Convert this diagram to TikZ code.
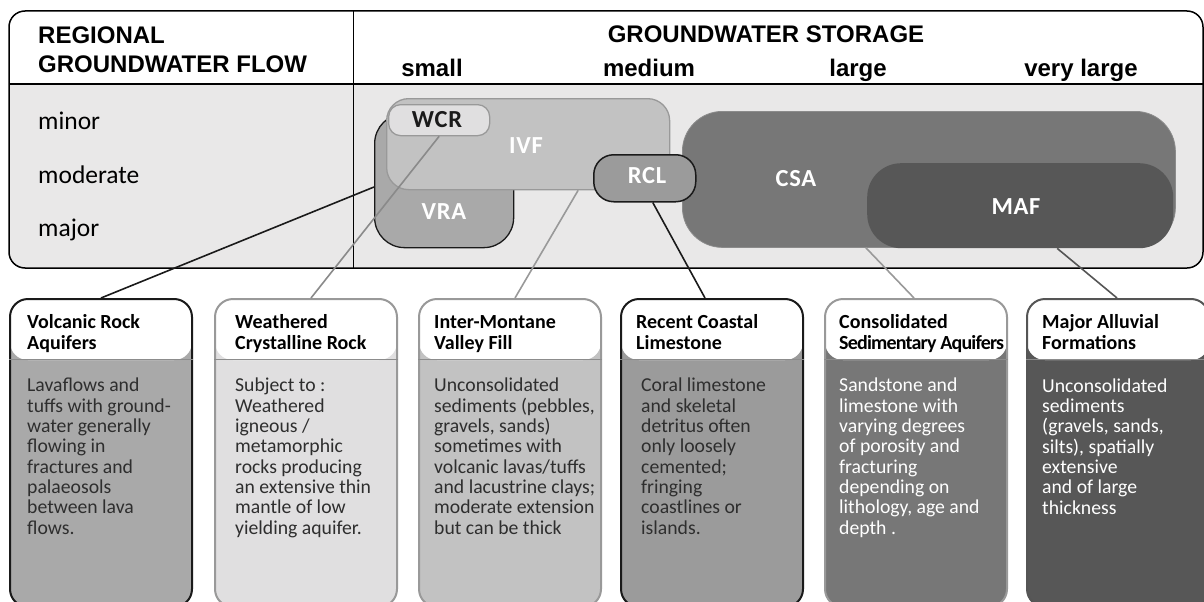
\documentclass[tikz,border=0pt]{standalone}
\usepackage{fontspec}
\setmainfont{Carlito}
\newfontfamily\hfont{Liberation Sans}
\usetikzlibrary{calc}
\definecolor{panel}{HTML}{E9E8E8}
\definecolor{vraC}{HTML}{A9A9A9}
\definecolor{ivfC}{HTML}{C2C2C2}
\definecolor{wcrC}{HTML}{E0DFE0}
\definecolor{rclC}{HTML}{9B9B9B}
\definecolor{csaC}{HTML}{777777}
\definecolor{mafC}{HTML}{575757}
\definecolor{darkline}{HTML}{1A1A1A}
\definecolor{greyline}{HTML}{999999}
\definecolor{midline}{HTML}{555555}
\definecolor{bodytext}{HTML}{2E2E2E}
\tikzset{
  area/.style={inner sep=0pt, anchor=north west},
  areatext/.style={font=\fontsize{24.5}{25}\selectfont\bfseries\addfontfeatures{LetterSpace=3}, text=white, inner sep=0pt, anchor=base},
  hdr/.style={font=\hfont\fontsize{24}{26}\selectfont\bfseries, inner sep=0pt},
  rowlab/.style={font=\fontsize{25.5}{26}\selectfont, inner sep=0pt, anchor=base west},
  infobox/.style={inner sep=0pt, anchor=north west, minimum width=182pt, minimum height=308pt,
    rounded corners=18pt, line width=2pt,
    path picture={\fill[white] (path picture bounding box.north west) rectangle
      ([yshift=-61pt]path picture bounding box.north east);}},
  boxhead/.style={inner sep=0pt, anchor=base west, align=left, font=\fontsize{20}{21}\selectfont\bfseries},
  boxbody/.style={inner sep=0pt, anchor=base west, align=left, font=\fontsize{19.7}{20.3}\selectfont},
  conn/.style={line width=1.6pt}
}
\begin{document}
\begin{tikzpicture}[x=1pt,y=-1pt]
\useasboundingbox (0,0) rectangle (1204,602);
% main panel
\begin{scope}
  \clip[rounded corners=16pt] (9,11) rectangle (1203,268);
  \fill[white] (9,11) rectangle (1203,84);
  \fill[panel] (9,84) rectangle (1203,268);
\end{scope}
\draw[line width=1.2pt] (9,84) -- (1203,84);
\draw[line width=1pt] (353,11) -- (353,268);
\draw[rounded corners=16pt, line width=1.5pt] (9,11) rectangle (1203,268);

% headers
\node[hdr, anchor=base west] (hreg) at (38,44) {REGIONAL};
\node[hdr, anchor=base west] (hflow) at (38,72) {GROUNDWATER FLOW};
\node[hdr, anchor=base] (hstor) at (766,43) {GROUNDWATER STORAGE};
\node[hdr, anchor=base] (hsmall) at (432,76) {small};
\node[hdr, anchor=base] (hmed) at (649,76) {medium};
\node[hdr, anchor=base] (hlarge) at (858,76) {large};
\node[hdr, anchor=base] (hvlarge) at (1081,76) {very large};
\node[rowlab] (rminor) at (38,129) {minor};
\node[rowlab] (rmod) at (38,183) {moderate};
\node[rowlab] (rmaj) at (38,236) {major};

% storage areas
\node[area, minimum width=139pt, minimum height=134pt, rounded corners=30pt,
  fill=vraC, draw=darkline, line width=1.3pt] (vra) at (374,113) {};
\node[area, minimum width=283pt, minimum height=91pt, rounded corners=22pt,
  fill=ivfC, draw=greyline, line width=1.3pt] (ivf) at (386,98) {};
\node[area, minimum width=101pt, minimum height=31pt, rounded corners=12pt,
  fill=wcrC, draw=greyline, line width=1.3pt] (wcr) at (388,104) {};
\node[area, minimum width=493pt, minimum height=136pt, rounded corners=40pt,
  fill=csaC, draw=csaC!85!white, line width=0.8pt] (csa) at (682,111) {};
\node[area, minimum width=306pt, minimum height=85pt, rounded corners=34pt,
  fill=mafC] (maf) at (867,163) {};
\node[area, minimum width=102pt, minimum height=47pt, rounded corners=20pt,
  fill=rclC, draw=darkline, line width=1.5pt] (rcl) at (593,154) {};

\node[areatext, text=darkline] (twcr) at (437,127.5) {WCR};
\node[areatext] (tivf) at (526,153.5) {IVF};
\node[areatext] (tvra) at (444,219.5) {VRA};
\node[areatext] (trcl) at (647,183.5) {RCL};
\node[areatext] (tcsa) at (796,186.5) {CSA};
\node[areatext] (tmaf) at (1016,214) {MAF};

% info boxes
\node[infobox, fill=vraC, draw=darkline] (box1) at (9,298) {};
\node[infobox, fill=wcrC, draw=greyline] (box2) at (214,298) {};
\node[infobox, fill=ivfC, draw=greyline] (box3) at (418,298) {};
\node[infobox, fill=rclC, draw=darkline] (box4) at (620,298) {};
\node[infobox, fill=csaC, draw=greyline] (box5) at (824,298) {};
\node[infobox, fill=mafC, draw=midline] (box6) at (1026,298) {};
\foreach \b in {box1,box2,box3,box4,box5,box6}{
  \draw[line width=0.6pt, black!45] ([yshift=-61pt]\b.north west) -- ([yshift=-61pt]\b.north east);
}

% connectors
\draw[conn, darkline] (vra.west |- 0,187) -- (box1.north);
\draw[conn, greyline!90!black] (wcr.south) -- ([xshift=5pt]box2.north);
\draw[conn, greyline] ([xshift=50pt]ivf.south) -- ([xshift=5pt]box3.north);
\draw[conn, darkline] ([xshift=8pt]rcl.south) -- ([xshift=-7pt]box4.north);
\draw[conn, greyline] ([xshift=-63pt]csa.south) -- ([xshift=-2pt]box5.north);
\draw[conn, midline] ([xshift=37pt]maf.south) -- ([xshift=-1pt]box6.north);

% box texts (base anchor = baseline of last line)
\node[boxhead] (h1) at (27,349) {Volcanic Rock\\Aquifers};
\node[boxhead] (h2) at (235,349) {Weathered\\Crystalline Rock};
\node[boxhead] (h3) at (434,349) {Inter-Montane\\Valley Fill};
\node[boxhead] (h4) at (636,349) {Recent Coastal\\Limestone};
\node[boxhead] (h5) at (839,349) {Consolidated\\\addfontfeatures{LetterSpace=-4}Sedimentary Aquifers};
\node[boxhead] (h6) at (1042,349) {Major Alluvial\\Formations};

\node[boxbody, text=bodytext] (b1) at (27,534) {Lavaflows and\\tuffs with ground-\\water generally\\flowing in\\fractures and\\palaeosols\\between lava\\flows.};
\node[boxbody, text=bodytext] (b2) at (235,534) {Subject to :\\Weathered\\igneous /\\metamorphic\\rocks producing\\an extensive thin\\mantle of low\\yielding aquifer.};
\node[boxbody, text=bodytext] (b3) at (434,534) {Unconsolidated\\sediments (pebbles,\\gravels, sands)\\sometimes with\\volcanic lavas/tuffs\\and lacustrine clays;\\moderate extension\\but can be thick};
\node[boxbody, text=bodytext] (b4) at (641,534) {Coral limestone\\and skeletal\\detritus often\\only loosely\\cemented;\\fringing\\coastlines or\\islands.};
\node[boxbody, text=white] (b5) at (839,534) {Sandstone and\\limestone with\\varying degrees\\of porosity and\\fracturing\\depending on\\lithology, age and\\depth .};
\node[boxbody, text=white] (b6) at (1042,514) {Unconsolidated\\sediments\\(gravels, sands,\\silts), spatially\\extensive\\and of large\\thickness};
\end{tikzpicture}
\end{document}
